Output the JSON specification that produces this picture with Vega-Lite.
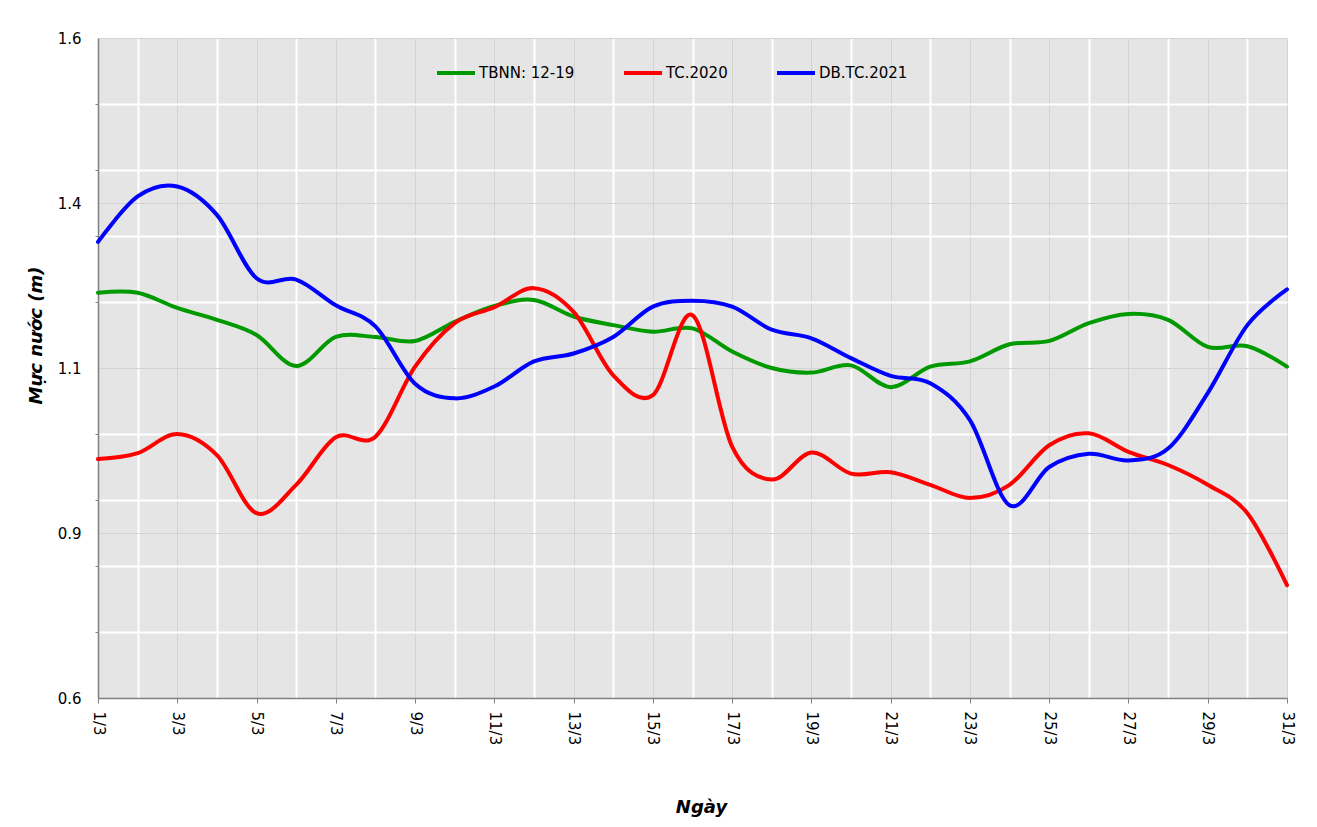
{
  "$schema": "https://vega.github.io/schema/vega-lite/v6.json",
  "width": 1189,
  "height": 660,
  "autosize": {"type": "none"},
  "padding": {"left": 98, "top": 38, "right": 30, "bottom": 129},
  "background": "#ffffff",
  "config": {
    "font": "DejaVu Sans",
    "view": {"fill": "#e5e5e5", "stroke": null}
  },
  "data": {
    "values": [
      {"series": "TBNN: 12-19", "day": 1, "value": 1.214},
      {"series": "TBNN: 12-19", "day": 2, "value": 1.214},
      {"series": "TBNN: 12-19", "day": 3, "value": 1.191},
      {"series": "TBNN: 12-19", "day": 4, "value": 1.173},
      {"series": "TBNN: 12-19", "day": 5, "value": 1.15},
      {"series": "TBNN: 12-19", "day": 6, "value": 1.103},
      {"series": "TBNN: 12-19", "day": 7, "value": 1.147},
      {"series": "TBNN: 12-19", "day": 8, "value": 1.147},
      {"series": "TBNN: 12-19", "day": 9, "value": 1.141},
      {"series": "TBNN: 12-19", "day": 10, "value": 1.17},
      {"series": "TBNN: 12-19", "day": 11, "value": 1.194},
      {"series": "TBNN: 12-19", "day": 12, "value": 1.203},
      {"series": "TBNN: 12-19", "day": 13, "value": 1.178},
      {"series": "TBNN: 12-19", "day": 14, "value": 1.165},
      {"series": "TBNN: 12-19", "day": 15, "value": 1.155},
      {"series": "TBNN: 12-19", "day": 16, "value": 1.16},
      {"series": "TBNN: 12-19", "day": 17, "value": 1.125},
      {"series": "TBNN: 12-19", "day": 18, "value": 1.1},
      {"series": "TBNN: 12-19", "day": 19, "value": 1.093},
      {"series": "TBNN: 12-19", "day": 20, "value": 1.104},
      {"series": "TBNN: 12-19", "day": 21, "value": 1.071},
      {"series": "TBNN: 12-19", "day": 22, "value": 1.102},
      {"series": "TBNN: 12-19", "day": 23, "value": 1.11},
      {"series": "TBNN: 12-19", "day": 24, "value": 1.136},
      {"series": "TBNN: 12-19", "day": 25, "value": 1.141},
      {"series": "TBNN: 12-19", "day": 26, "value": 1.168},
      {"series": "TBNN: 12-19", "day": 27, "value": 1.182},
      {"series": "TBNN: 12-19", "day": 28, "value": 1.173},
      {"series": "TBNN: 12-19", "day": 29, "value": 1.132},
      {"series": "TBNN: 12-19", "day": 30, "value": 1.133},
      {"series": "TBNN: 12-19", "day": 31, "value": 1.102},
      {"series": "TC.2020", "day": 1, "value": 0.962},
      {"series": "TC.2020", "day": 2, "value": 0.971},
      {"series": "TC.2020", "day": 3, "value": 1.0},
      {"series": "TC.2020", "day": 4, "value": 0.968},
      {"series": "TC.2020", "day": 5, "value": 0.88},
      {"series": "TC.2020", "day": 6, "value": 0.923},
      {"series": "TC.2020", "day": 7, "value": 0.995},
      {"series": "TC.2020", "day": 8, "value": 0.996},
      {"series": "TC.2020", "day": 9, "value": 1.102},
      {"series": "TC.2020", "day": 10, "value": 1.168},
      {"series": "TC.2020", "day": 11, "value": 1.192},
      {"series": "TC.2020", "day": 12, "value": 1.221},
      {"series": "TC.2020", "day": 13, "value": 1.185},
      {"series": "TC.2020", "day": 14, "value": 1.089},
      {"series": "TC.2020", "day": 15, "value": 1.059},
      {"series": "TC.2020", "day": 16, "value": 1.18},
      {"series": "TC.2020", "day": 17, "value": 0.981},
      {"series": "TC.2020", "day": 18, "value": 0.931},
      {"series": "TC.2020", "day": 19, "value": 0.972},
      {"series": "TC.2020", "day": 20, "value": 0.94},
      {"series": "TC.2020", "day": 21, "value": 0.942},
      {"series": "TC.2020", "day": 22, "value": 0.923},
      {"series": "TC.2020", "day": 23, "value": 0.903},
      {"series": "TC.2020", "day": 24, "value": 0.923},
      {"series": "TC.2020", "day": 25, "value": 0.983},
      {"series": "TC.2020", "day": 26, "value": 1.001},
      {"series": "TC.2020", "day": 27, "value": 0.973},
      {"series": "TC.2020", "day": 28, "value": 0.953},
      {"series": "TC.2020", "day": 29, "value": 0.923},
      {"series": "TC.2020", "day": 30, "value": 0.88},
      {"series": "TC.2020", "day": 31, "value": 0.771},
      {"series": "DB.TC.2021", "day": 1, "value": 1.291},
      {"series": "DB.TC.2021", "day": 2, "value": 1.36},
      {"series": "DB.TC.2021", "day": 3, "value": 1.375},
      {"series": "DB.TC.2021", "day": 4, "value": 1.332},
      {"series": "DB.TC.2021", "day": 5, "value": 1.236},
      {"series": "DB.TC.2021", "day": 6, "value": 1.234},
      {"series": "DB.TC.2021", "day": 7, "value": 1.195},
      {"series": "DB.TC.2021", "day": 8, "value": 1.163},
      {"series": "DB.TC.2021", "day": 9, "value": 1.076},
      {"series": "DB.TC.2021", "day": 10, "value": 1.054},
      {"series": "DB.TC.2021", "day": 11, "value": 1.072},
      {"series": "DB.TC.2021", "day": 12, "value": 1.11},
      {"series": "DB.TC.2021", "day": 13, "value": 1.122},
      {"series": "DB.TC.2021", "day": 14, "value": 1.147},
      {"series": "DB.TC.2021", "day": 15, "value": 1.193},
      {"series": "DB.TC.2021", "day": 16, "value": 1.202},
      {"series": "DB.TC.2021", "day": 17, "value": 1.193},
      {"series": "DB.TC.2021", "day": 18, "value": 1.158},
      {"series": "DB.TC.2021", "day": 19, "value": 1.145},
      {"series": "DB.TC.2021", "day": 20, "value": 1.115},
      {"series": "DB.TC.2021", "day": 21, "value": 1.088},
      {"series": "DB.TC.2021", "day": 22, "value": 1.077},
      {"series": "DB.TC.2021", "day": 23, "value": 1.021},
      {"series": "DB.TC.2021", "day": 24, "value": 0.892},
      {"series": "DB.TC.2021", "day": 25, "value": 0.95},
      {"series": "DB.TC.2021", "day": 26, "value": 0.97},
      {"series": "DB.TC.2021", "day": 27, "value": 0.96},
      {"series": "DB.TC.2021", "day": 28, "value": 0.978},
      {"series": "DB.TC.2021", "day": 29, "value": 1.062},
      {"series": "DB.TC.2021", "day": 30, "value": 1.165},
      {"series": "DB.TC.2021", "day": 31, "value": 1.219}
    ]
  },
  "mark": {"type": "line", "interpolate": "cardinal", "tension": 0, "strokeWidth": 4, "strokeCap": "round"},
  "encoding": {
    "x": {
      "field": "day",
      "type": "quantitative",
      "scale": {"domain": [1, 31], "nice": false, "zero": false},
      "axis": {
        "title": "Ngày",
        "titleFontStyle": "italic",
        "titleFontWeight": "bold",
        "titleFontSize": 18,
        "titleColor": "#000000",
        "titlePadding": 54,
        "titleX": 603,
        "values": [1,2,3,4,5,6,7,8,9,10,11,12,13,14,15,16,17,18,19,20,21,22,23,24,25,26,27,28,29,30,31],
        "labelExpr": "datum.value % 2 == 1 ? datum.value + '/3' : ''",
        "labelAngle": 90,
        "labelAlign": "left",
        "labelBaseline": "middle",
        "labelFontSize": 15,
        "labelColor": "#000000",
        "labelPadding": 8,
        "labelOverlap": false,
        "labelFlush": false,
        "domainColor": "#808080",
        "domainWidth": 1.5,
        "tickColor": "#808080",
        "tickSize": 5,
        "tickOpacity": {"condition": {"test": "datum.value % 2 == 1", "value": 1}, "value": 0},
        "grid": true,
        "gridColor": {"condition": {"test": "datum.value % 2 == 1", "value": "#d3d3d3"}, "value": "#ffffff"},
        "gridWidth": {"condition": {"test": "datum.value % 2 == 1", "value": 1}, "value": 2},
        "gridOpacity": 1
      }
    },
    "y": {
      "field": "value",
      "type": "quantitative",
      "scale": {"domain": [0.6, 1.6], "nice": false, "zero": false},
      "axis": {
        "title": "Mực nước (m)",
        "titleFontStyle": "italic",
        "titleFontWeight": "bold",
        "titleFontSize": 18,
        "titleColor": "#000000",
        "titlePadding": 12,
        "titleY": 297,
        "values": [0.6, 0.7, 0.8, 0.85, 0.9, 1.0, 1.1, 1.2, 1.3, 1.35, 1.4, 1.5, 1.6],
        "labelExpr": "abs((datum.value-0.6)*4 - round((datum.value-0.6)*4)) < 0.01 ? format(datum.value + 0.0001, '.1f') : ''",
        "labelFontSize": 15,
        "labelColor": "#000000",
        "labelPadding": 14,
        "labelOverlap": false,
        "labelFlush": false,
        "domainColor": "#808080",
        "domainWidth": 1.5,
        "tickColor": "#808080",
        "tickSize": 3,
        "tickOpacity": {"condition": {"test": "abs((datum.value-0.6)*4 - round((datum.value-0.6)*4)) < 0.01", "value": 0}, "value": 1},
        "grid": true,
        "gridColor": {"condition": {"test": "abs((datum.value-0.6)*4 - round((datum.value-0.6)*4)) < 0.01", "value": "#d3d3d3"}, "value": "#ffffff"},
        "gridWidth": {"condition": {"test": "abs((datum.value-0.6)*4 - round((datum.value-0.6)*4)) < 0.01", "value": 1}, "value": 2},
        "gridOpacity": 1
      }
    },
    "color": {
      "field": "series",
      "type": "nominal",
      "sort": ["TBNN: 12-19", "TC.2020", "DB.TC.2021"],
      "scale": {"domain": ["TBNN: 12-19", "TC.2020", "DB.TC.2021"], "range": ["#009a00", "#ff0000", "#0000ff"]},
      "legend": {
        "title": null,
        "orient": "none",
        "legendX": 337,
        "legendY": 14,
        "direction": "horizontal",
        "columns": 3,
        "columnPadding": 41,
        "padding": 0,
        "symbolType": "stroke",
        "symbolSize": 1444,
        "symbolStrokeWidth": 4,
        "labelFontSize": 15,
        "labelColor": "#000000",
        "labelOffset": 2
      }
    }
  }
}
